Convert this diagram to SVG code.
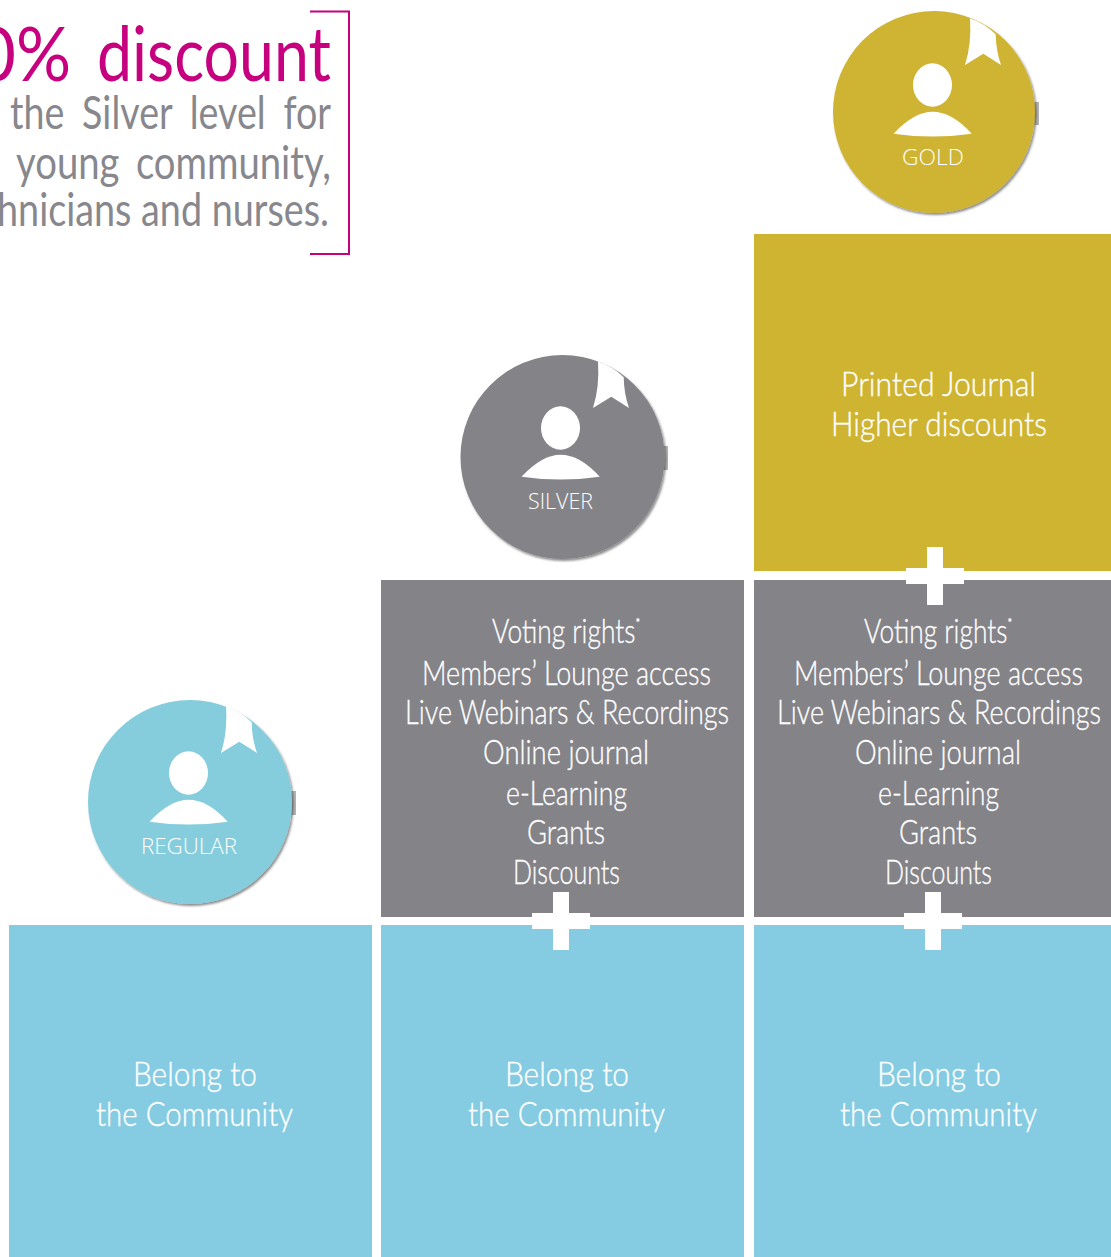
<svg xmlns="http://www.w3.org/2000/svg" width="1111" height="1257" viewBox="0 0 1111 1257">
<style>
.t{font-family:"Lato","Noto Sans",sans-serif;font-weight:300;fill:#fff;stroke:#fff;stroke-width:.35px;font-size:34px}
.b{font-family:"Lato","Noto Sans",sans-serif;font-weight:400;fill:#87878d;font-size:46px}
.h{font-family:"Lato","Noto Sans",sans-serif;font-weight:400;fill:#c6007e;font-size:75px}
.l{font-family:"Open Sans","Noto Sans",sans-serif;font-weight:300;fill:#fff;font-size:22px}
.s{font-size:14px}
.gold{fill:#ceb430}.grey{fill:#848388}.blue{fill:#85cce3}.tab{fill:#b4b4b4}
</style>
<defs>
<filter id="sh" x="-10%" y="-10%" width="125%" height="125%"><feDropShadow dx="1.5" dy="2" stdDeviation="1.2" flood-color="#000" flood-opacity=".45"/></filter>
<g id="icon" fill="#fff">
<ellipse cx="-1.500" cy="-28" rx="19.500" ry="21.700"/>
<path d="M-40.500 20.700Q-20 -1.300 -1.500 -1.300Q18 -1.300 37.700 20.700Q-1.500 26.500 -40.500 20.700Z"/>
<path d="M36 -94.700Q50 -90 61.700 -78.700Q62 -62 67 -48L49.300 -59.300L31 -48Q37.700 -68.700 36 -94.700Z"/>
</g>
<path id="plus" fill="#fff" d="M-8 -29H8V-8H29V8H8V29H-8V8H-29V-8H-8Z"/>
</defs>
<g id="discount-note">
<path d="M310 11.500H349V254H310" fill="none" stroke="#c6007e" stroke-width="2"/>
<text class="h" x="-24" y="81" textLength="95" lengthAdjust="spacingAndGlyphs">0%</text>
<text class="h" x="97" y="81" textLength="234" lengthAdjust="spacingAndGlyphs">discount</text>
<text class="b" x="10" y="129" textLength="321" lengthAdjust="spacingAndGlyphs" word-spacing="10">the Silver level for</text>
<text class="b" x="16" y="179" textLength="315" lengthAdjust="spacingAndGlyphs" word-spacing="8">young community,</text>
<text class="b" x="-3" y="226" textLength="332" lengthAdjust="spacingAndGlyphs">hnicians and nurses.</text>
</g>
<g id="regular-box"><rect class="blue" x="9" y="925" width="363" height="332"/>
<text class="t" x="133" y="1086" textLength="124" lengthAdjust="spacingAndGlyphs">Belong to</text>
<text class="t" x="96" y="1126" textLength="197" lengthAdjust="spacingAndGlyphs">the Community</text></g>
<g id="silver-base-box"><rect class="blue" x="381" y="925" width="363" height="332"/>
<text class="t" x="505" y="1086" textLength="124" lengthAdjust="spacingAndGlyphs">Belong to</text>
<text class="t" x="468" y="1126" textLength="197" lengthAdjust="spacingAndGlyphs">the Community</text></g>
<g id="gold-base-box"><rect class="blue" x="754" y="925" width="357" height="332"/>
<text class="t" x="877" y="1086" textLength="124" lengthAdjust="spacingAndGlyphs">Belong to</text>
<text class="t" x="840" y="1126" textLength="197" lengthAdjust="spacingAndGlyphs">the Community</text></g>
<g id="silver-box"><rect class="grey" x="381" y="580" width="363" height="337"/>
<text class="t" x="492" y="643" textLength="148" lengthAdjust="spacingAndGlyphs">Voting rights<tspan class="s" dy="-15">*</tspan></text>
<text class="t" x="422" y="685" textLength="289" lengthAdjust="spacingAndGlyphs">Members’ Lounge access</text>
<text class="t" x="405" y="724" textLength="324" lengthAdjust="spacingAndGlyphs">Live Webinars &amp; Recordings</text>
<text class="t" x="483" y="764" textLength="166" lengthAdjust="spacingAndGlyphs">Online journal</text>
<text class="t" x="506" y="805" textLength="121" lengthAdjust="spacingAndGlyphs">e-Learning</text>
<text class="t" x="527" y="844" textLength="78" lengthAdjust="spacingAndGlyphs">Grants</text>
<text class="t" x="513" y="884" textLength="107" lengthAdjust="spacingAndGlyphs">Discounts</text></g>
<g id="gold-mid-box"><rect class="grey" x="754" y="580" width="357" height="337"/>
<text class="t" x="864" y="643" textLength="148" lengthAdjust="spacingAndGlyphs">Voting rights<tspan class="s" dy="-15">*</tspan></text>
<text class="t" x="794" y="685" textLength="289" lengthAdjust="spacingAndGlyphs">Members’ Lounge access</text>
<text class="t" x="777" y="724" textLength="324" lengthAdjust="spacingAndGlyphs">Live Webinars &amp; Recordings</text>
<text class="t" x="855" y="764" textLength="166" lengthAdjust="spacingAndGlyphs">Online journal</text>
<text class="t" x="878" y="805" textLength="121" lengthAdjust="spacingAndGlyphs">e-Learning</text>
<text class="t" x="899" y="844" textLength="78" lengthAdjust="spacingAndGlyphs">Grants</text>
<text class="t" x="885" y="884" textLength="107" lengthAdjust="spacingAndGlyphs">Discounts</text></g>
<g id="gold-box"><rect class="gold" x="754" y="234" width="357" height="337"/>
<text class="t" x="841" y="396" textLength="195" lengthAdjust="spacingAndGlyphs">Printed Journal</text>
<text class="t" x="831" y="436" textLength="216" lengthAdjust="spacingAndGlyphs">Higher discounts</text></g>
<g id="connectors">
<use href="#plus" x="935" y="576"/>
<use href="#plus" x="561" y="921"/>
<use href="#plus" x="933" y="921"/>
</g>
<g id="gold-badge">
<rect class="tab" x="1030" y="102" width="9" height="23"/>
<circle class="gold" cx="934" cy="112" r="101" filter="url(#sh)"/>
<use href="#icon" x="934" y="113"/>
<text class="l" x="902" y="165" textLength="62" lengthAdjust="spacingAndGlyphs">GOLD</text></g>
<g id="silver-badge">
<rect class="tab" x="660" y="446" width="8" height="24"/>
<circle class="grey" cx="562.500" cy="457" r="102" filter="url(#sh)"/>
<use href="#icon" x="562" y="456"/>
<text class="l" x="528" y="509" textLength="65" lengthAdjust="spacingAndGlyphs">SILVER</text></g>
<g id="regular-badge">
<rect class="tab" x="287" y="791" width="9" height="24"/>
<circle cx="190" cy="802" r="102" fill="#85cddc" filter="url(#sh)"/>
<use href="#icon" x="190" y="801"/>
<text class="l" x="141" y="854" textLength="96" lengthAdjust="spacingAndGlyphs">REGULAR</text></g>
</svg>
